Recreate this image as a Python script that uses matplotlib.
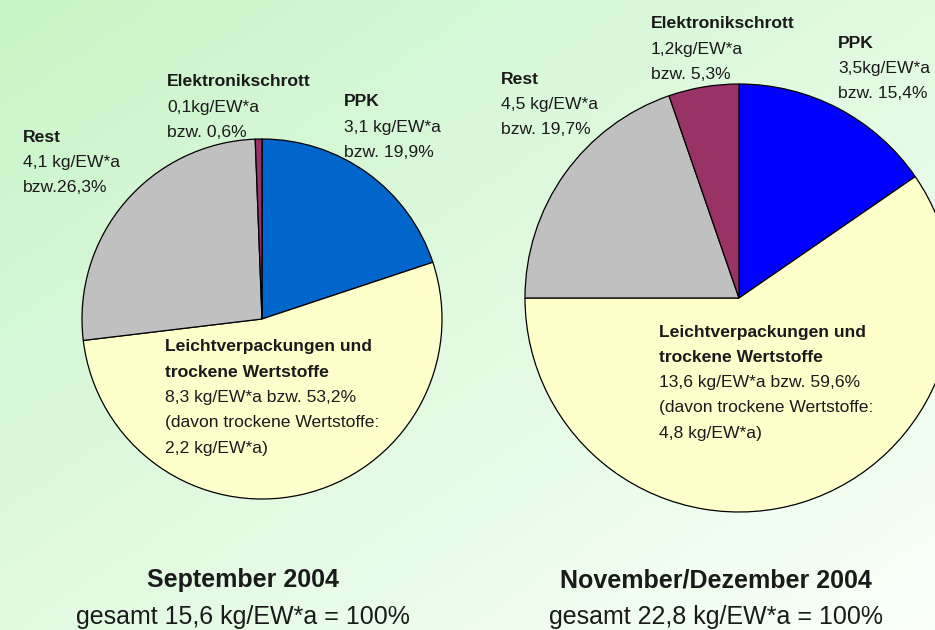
import numpy as np
import matplotlib.pyplot as plt

OUT_FILE = 'out.png'
W, H = 935, 630

# fractions in percent, clockwise from 12 o'clock
categories = ['PPK', 'Leichtverpackungen', 'Rest', 'Elektronikschrott']
sep_values = [19.9, 53.2, 26.3, 0.6]
nov_values = [15.4, 59.6, 19.7, 5.3]

sep_labels = [
    ['PPK', '3,1 kg/EW*a', 'bzw. 19,9%'],
    ['Leichtverpackungen und', 'trockene Wertstoffe', '8,3 kg/EW*a bzw. 53,2%',
     '(davon trockene Wertstoffe:', '2,2 kg/EW*a)'],
    ['Rest', '4,1 kg/EW*a', 'bzw.26,3%'],
    ['Elektronikschrott', '0,1kg/EW*a', 'bzw. 0,6%'],
]
nov_labels = [
    ['PPK', '3,5kg/EW*a', 'bzw. 15,4%'],
    ['Leichtverpackungen und', 'trockene Wertstoffe', '13,6 kg/EW*a bzw. 59,6%',
     '(davon trockene Wertstoffe:', '4,8 kg/EW*a)'],
    ['Rest', '4,5 kg/EW*a', 'bzw. 19,7%'],
    ['Elektronikschrott', '1,2kg/EW*a', 'bzw. 5,3%'],
]
bold_lines = [1, 2, 1, 1]

titles = ['September 2004', 'November/Dezember 2004']
totals = ['gesamt 15,6 kg/EW*a = 100%', 'gesamt 22,8 kg/EW*a = 100%']

sep_colors = ['#0066CC', '#FFFFCC', '#C0C0C0', '#993366']
nov_colors = ['#0000FF', '#FFFFCC', '#C0C0C0', '#993366']

plt.rcParams['font.family'] = ['Liberation Sans', 'DejaVu Sans']
TXT = '#1a1a1a'

fig = plt.figure(figsize=(W / 100, H / 100), dpi=100)
ax = fig.add_axes([0, 0, 1, 1])

# diagonal green-to-white background
xx, yy = np.meshgrid(np.linspace(0, 1, 200), np.linspace(0, 1, 140))
t = (xx + yy) / 2
c0 = np.array([0.78, 0.96, 0.78])
c1 = np.array([0.98, 1.0, 0.98])
grad = c0[None, None, :] * (1 - t[..., None]) + c1[None, None, :] * t[..., None]
ax.imshow(grad, extent=(0, W, 0, H), origin='upper', aspect='auto', zorder=0)

wp = dict(edgecolor='black', linewidth=0.9)
ax.pie(sep_values, colors=sep_colors, startangle=90, counterclock=False,
       center=(262, H - 319), radius=180, wedgeprops=wp)
ax.pie(nov_values, colors=nov_colors, startangle=90, counterclock=False,
       center=(739, H - 298), radius=214, wedgeprops=wp)

ax.set_xlim(0, W)
ax.set_ylim(0, H)
ax.set_aspect('auto')
ax.axis('off')


def block(x, y0, lines, nbold, step=25.3):
    for i, line in enumerate(lines):
        ax.text(x, H - (y0 + i * step), line, ha='left', va='center',
                fontsize=12.6, color=TXT,
                fontweight='bold' if i < nbold else 'normal', zorder=5)


sep_pos = [(344, 102), (165, 347), (23, 137), (167, 82)]
nov_pos = [(838, 43), (659, 332), (501, 79), (651, 24)]
for lab, pos, nb in zip(sep_labels, sep_pos, bold_lines):
    block(pos[0], pos[1], lab, nb)
for lab, pos, nb in zip(nov_labels, nov_pos, bold_lines):
    block(pos[0], pos[1], lab, nb)

for xc, title, total in zip([243, 716], titles, totals):
    ax.text(xc, H - 580, title, ha='center', va='center', fontsize=18,
            fontweight='bold', color=TXT)
    ax.text(xc, H - 617, total, ha='center', va='center', fontsize=18,
            color=TXT)

fig.savefig(OUT_FILE, dpi=100)
